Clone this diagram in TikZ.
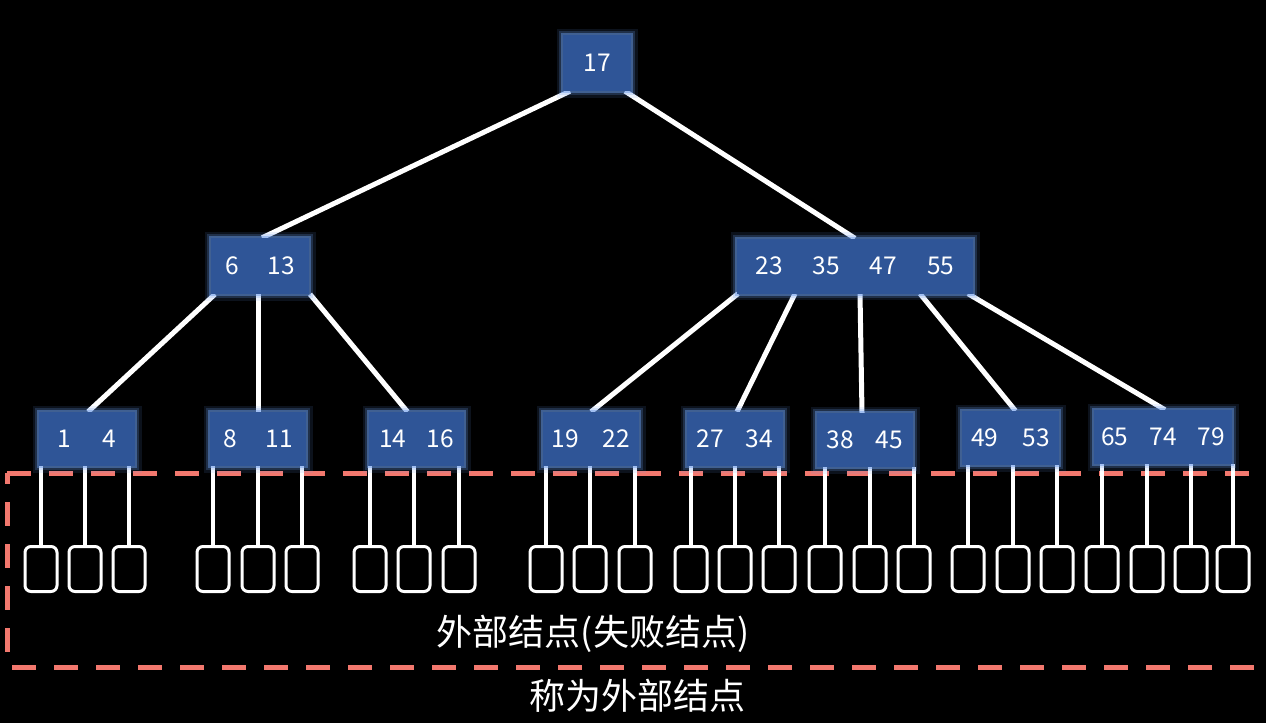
\documentclass[tikz,border=0pt]{standalone}
\usepackage{fontspec}
\setmainfont{Noto Sans CJK SC}
\pgfdeclarelayer{bg}
\pgfdeclarelayer{edges}
\pgfsetlayers{bg,edges,main}
\definecolor{nodeblue}{RGB}{47,85,151}
\definecolor{glowblue}{RGB}{105,155,235}
\definecolor{dashred}{RGB}{242,120,110}
\begin{document}
\begin{tikzpicture}[x=1pt,y=-1pt,
  key/.style={fill=nodeblue, text=white, inner sep=0pt, font=\fontsize{24.5}{28}\selectfont,
    preaction={draw=glowblue, line width=13pt, opacity=0.12, rounded corners=7pt},
    preaction={draw=glowblue, line width=8pt, opacity=0.22, rounded corners=4pt},
    preaction={draw=glowblue, line width=4pt, opacity=0.45, rounded corners=2pt}},
  leaf/.style={key, minimum height=54pt, minimum width=96pt},
  conn/.style={draw=white, line width=5pt},
  stem/.style={draw=white, line width=4.5pt},
  ext/.style={draw=white, line width=3pt, rounded corners=6pt, minimum width=32pt, minimum height=45pt, inner sep=0pt},
  dashline/.style={draw=dashred, line width=5pt, dash pattern=on 24pt off 18pt},
  lbl/.style={text=white, font=\fontsize{36}{40}\selectfont, inner sep=0pt}
]
\useasboundingbox (0,0) rectangle (1266,723);
\begin{pgfonlayer}{bg}
\fill[black] (0,0) rectangle (1266,723);
\end{pgfonlayer}

% internal nodes
\node[key, minimum width=68pt, minimum height=56pt] (r) at (597,63) {17};
\node[key, minimum width=98pt, minimum height=56pt] (a) at (260,266) {6\hspace{29pt}13};
\node[key, minimum width=236pt, minimum height=55pt] (b) at (855,266) {23\hspace{30pt}35\hspace{30pt}47\hspace{30pt}55};

\node[leaf] (l1) at (87,439) {1\hspace{32pt}4};
\node[leaf] (l2) at (258,439) {8\hspace{29pt}11};
\node[leaf, minimum width=95pt] (l3) at (416.5,439) {14\hspace{20pt}16};
\node[leaf] (l4) at (591,439) {19\hspace{24pt}22};
\node[leaf] (l5) at (735,439) {27\hspace{22pt}34};
\node[leaf] (l6) at (865,440) {38\hspace{22pt}45};
\node[leaf, minimum width=97pt] (l7) at (1010.5,438) {49\hspace{24pt}53};
\node[leaf, minimum width=138pt] (l8) at (1163,437) {65\hspace{21pt}74\hspace{21pt}79};

% external nodes
\foreach \n/\x in {1/41,2/85,3/129,4/213,5/258,6/302,7/370,8/414,9/459,10/546,11/590,12/635,13/691,14/735,15/779,16/825,17/870,18/914,19/968,20/1013,21/1057,22/1102,23/1147,24/1191,25/1233}
  \node[ext] (e\n) at (\x,569) {};

% labels
\node[lbl] (t1) at (593,634) {外部结点(失败结点)};
\node[lbl] (t2) at (637,696) {称为外部结点};

\begin{pgfonlayer}{edges}
% tree edges
\draw[conn] ([xshift=-27pt]r.south) -- ([xshift=2pt]a.north);
\draw[conn] ([xshift=28pt]r.south) -- (b.north);
\draw[conn] ([xshift=-45pt]a.south) -- ([xshift=1pt]l1.north);
\draw[conn] ([xshift=-2pt]a.south) -- (l2.north);
\draw[conn] ([xshift=50pt]a.south) -- ([xshift=-9pt]l3.north);
\draw[conn] ([xshift=-117pt]b.south) -- (l4.north);
\draw[conn] ([xshift=-60pt]b.south) -- ([xshift=2pt]l5.north);
\draw[conn] ([xshift=5pt]b.south) -- ([xshift=-3pt]l6.north);
\draw[conn] ([xshift=65pt]b.south) -- ([xshift=5pt]l7.north);
\draw[conn] ([xshift=113pt]b.south) -- ([xshift=2pt]l8.north);
% dashed frame
\draw[dashline] (7,473) -- (1256,473);
\draw[dashline, dash phase=13pt] (7,473) -- (7,667);
\draw[dashline] (12,667) -- (1256,667);
% stems to external nodes
\foreach \l/\e in {l1/e1,l1/e2,l1/e3,l2/e4,l2/e5,l2/e6,l3/e7,l3/e8,l3/e9,l4/e10,l4/e11,l4/e12,l5/e13,l5/e14,l5/e15,l6/e16,l6/e17,l6/e18,l7/e19,l7/e20,l7/e21,l8/e22,l8/e23,l8/e24,l8/e25}
  \draw[stem] (\e.north |- \l.south) -- (\e.north);
\end{pgfonlayer}
\end{tikzpicture}
\end{document}
